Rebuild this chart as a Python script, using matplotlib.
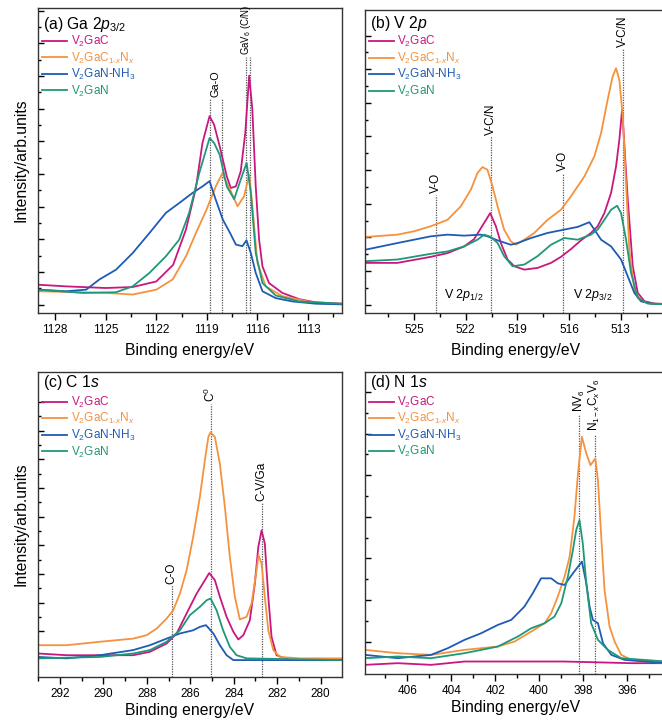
import matplotlib
matplotlib.use("Agg")
import matplotlib.pyplot as plt
from matplotlib.ticker import MultipleLocator, FixedLocator
import numpy as np

plt.rcParams['font.family'] = ['Liberation Sans', 'DejaVu Sans']
plt.rcParams['mathtext.fontset'] = 'custom'
plt.rcParams['mathtext.rm'] = 'Liberation Sans'
plt.rcParams['mathtext.it'] = 'Liberation Sans:italic'
plt.rcParams['mathtext.bf'] = 'Liberation Sans:bold'

names = ["V$_2$GaC", "V$_2$GaC$_{1\u2011x}$N$_x$", "V$_2$GaN-NH$_3$", "V$_2$GaN"]
colors = ["#C8187F", "#F5923E", "#1F5BB4", "#1E9878"]

# ---- (a) Ga 2p3/2 ----
ga_c_e = [1129.0, 1127.35, 1125.0, 1123.4, 1122.0, 1121.0, 1120.24, 1119.65, 1119.26, 1118.84, 1118.57, 1118.24, 1117.82, 1117.58, 1117.28, 1116.99, 1116.72, 1116.49, 1116.3, 1116.1, 1115.9, 1115.7, 1115.31, 1114.52, 1113.53, 1112.55, 1111.0]
ga_c_i = [0.61, 0.56, 0.51, 0.54, 0.71, 1.22, 2.30, 3.57, 4.95, 5.77, 5.51, 4.85, 3.93, 3.57, 3.62, 4.08, 5.26, 7.01, 5.97, 3.62, 1.99, 1.17, 0.66, 0.36, 0.17, 0.07, 0.03]
ga_cn_e = [1129.0, 1125.0, 1123.4, 1122.0, 1121.03, 1120.24, 1119.65, 1119.06, 1118.47, 1118.09, 1117.62, 1117.18, 1116.79, 1116.49, 1116.3, 1116.0, 1115.51, 1114.52, 1112.55, 1111.0]
ga_cn_i = [0.41, 0.36, 0.31, 0.46, 0.77, 1.48, 2.19, 2.86, 3.62, 4.01, 3.52, 3.01, 3.32, 3.98, 3.01, 1.28, 0.56, 0.26, 0.05, 0.02]
ga_nh_e = [1129.0, 1127.35, 1126.16, 1125.38, 1124.39, 1123.4, 1122.41, 1121.43, 1120.64, 1119.85, 1119.26, 1118.84, 1118.47, 1118.05, 1117.62, 1117.28, 1116.89, 1116.65, 1116.39, 1116.1, 1115.7, 1114.91, 1113.93, 1112.55, 1111.0]
ga_nh_i = [0.46, 0.41, 0.46, 0.77, 1.07, 1.58, 2.19, 2.81, 3.11, 3.42, 3.62, 3.78, 3.21, 2.60, 2.19, 1.84, 1.79, 1.97, 1.58, 0.97, 0.41, 0.20, 0.10, 0.03, 0.01]
ga_n_e = [1129.0, 1126.36, 1124.39, 1123.4, 1122.41, 1121.43, 1120.64, 1120.05, 1119.45, 1118.84, 1118.57, 1118.24, 1117.82, 1117.38, 1116.99, 1116.64, 1116.39, 1116.1, 1115.7, 1114.91, 1113.53, 1111.0]
ga_n_i = [0.46, 0.36, 0.38, 0.56, 0.97, 1.48, 1.99, 2.81, 4.03, 5.10, 4.95, 4.59, 3.62, 3.23, 3.83, 4.34, 3.42, 1.58, 0.66, 0.28, 0.10, 0.03]

# ---- (b) V 2p ----
v_c_e = [527.85, 525.97, 524.03, 523.06, 522.09, 521.51, 520.93, 520.58, 520.25, 519.96, 519.57, 519.18, 518.6, 517.83, 517.05, 516.47, 515.89, 515.31, 514.73, 514.34, 513.95, 513.56, 513.27, 513.08, 512.92, 512.83, 512.59, 512.3, 512.01, 511.62, 511.04, 510.37]
v_c_i = [1.24, 1.24, 1.42, 1.53, 1.73, 1.95, 2.43, 2.72, 2.33, 1.83, 1.34, 1.14, 1.04, 1.09, 1.24, 1.42, 1.65, 1.91, 2.13, 2.33, 2.72, 3.32, 4.11, 4.90, 5.79, 5.10, 3.12, 1.14, 0.35, 0.10, 0.03, 0.02]
v_cn_e = [527.85, 525.97, 525.0, 524.03, 523.06, 522.29, 521.7, 521.32, 521.03, 520.74, 520.44, 520.15, 519.77, 519.38, 519.09, 518.6, 518.02, 517.25, 516.47, 515.89, 515.11, 514.53, 514.14, 513.76, 513.47, 513.27, 513.08, 512.88, 512.69, 512.5, 512.21, 511.82, 511.24, 510.37]
v_cn_i = [2.01, 2.08, 2.18, 2.33, 2.52, 2.92, 3.42, 3.91, 4.09, 4.01, 3.51, 2.92, 2.23, 1.88, 1.78, 1.93, 2.13, 2.52, 2.82, 3.22, 3.81, 4.41, 5.10, 6.09, 6.78, 7.03, 6.68, 5.59, 3.61, 1.63, 0.45, 0.10, 0.03, 0.01]
v_nh_e = [527.85, 525.97, 524.03, 523.06, 522.09, 521.13, 520.74, 520.15, 519.38, 518.99, 518.21, 517.25, 516.28, 515.5, 514.82, 514.53, 514.14, 513.56, 512.98, 512.59, 512.21, 511.82, 511.24, 510.37]
v_nh_i = [1.63, 1.83, 2.03, 2.08, 2.05, 2.08, 2.03, 1.91, 1.78, 1.83, 1.98, 2.13, 2.23, 2.31, 2.45, 2.23, 1.93, 1.73, 1.34, 0.84, 0.35, 0.10, 0.03, 0.01]
v_n_e = [527.85, 525.97, 524.03, 523.06, 522.09, 521.32, 520.93, 520.54, 520.15, 519.77, 519.28, 518.6, 517.83, 517.05, 516.28, 515.5, 514.73, 514.34, 513.95, 513.56, 513.21, 512.98, 512.69, 512.4, 512.01, 511.43, 510.37]
v_n_i = [1.29, 1.34, 1.51, 1.58, 1.73, 1.93, 2.08, 2.01, 1.83, 1.44, 1.14, 1.19, 1.44, 1.78, 1.98, 1.93, 2.08, 2.23, 2.52, 2.82, 2.94, 2.72, 1.93, 0.94, 0.20, 0.03, 0.01]

# ---- (c) C 1s ----
c_c_e = [293.0, 291.69, 290.16, 288.63, 287.86, 287.09, 286.63, 286.17, 285.71, 285.33, 285.13, 284.87, 284.64, 284.33, 284.02, 283.79, 283.56, 283.26, 283.03, 282.87, 282.72, 282.57, 282.41, 282.26, 282.03, 281.42, 279.0]
c_c_i = [-0.78, -0.84, -0.84, -0.84, -0.72, -0.43, -0.08, 0.62, 1.31, 1.78, 2.03, 1.78, 1.20, 0.50, -0.02, -0.29, -0.14, 0.38, 1.66, 2.94, 3.52, 3.06, 1.20, -0.20, -0.84, -1.01, -1.01]
c_cn_e = [293.0, 291.69, 290.16, 288.63, 288.01, 287.55, 287.09, 286.79, 286.48, 286.17, 285.87, 285.56, 285.33, 285.17, 285.07, 284.87, 284.64, 284.41, 284.18, 283.95, 283.72, 283.41, 283.18, 282.95, 282.86, 282.72, 282.57, 282.41, 282.18, 281.88, 280.96, 279.0]
c_cn_i = [-0.49, -0.49, -0.37, -0.26, -0.14, 0.09, 0.44, 0.73, 1.31, 2.13, 3.29, 4.69, 5.97, 6.78, 6.95, 6.78, 5.85, 4.34, 2.59, 1.20, 0.41, 0.50, 0.97, 2.13, 2.65, 2.36, 1.20, 0.03, -0.66, -0.90, -0.95, -0.95]
c_nh_e = [293.0, 291.69, 290.16, 288.63, 287.86, 287.09, 286.48, 285.87, 285.56, 285.28, 284.94, 284.64, 284.33, 284.02, 279.0]
c_nh_i = [-0.90, -0.95, -0.84, -0.66, -0.49, -0.26, -0.08, 0.03, 0.15, 0.21, -0.08, -0.49, -0.84, -1.01, -1.01]
c_n_e = [293.0, 290.16, 288.63, 287.86, 287.09, 286.48, 286.02, 285.56, 285.25, 285.07, 284.79, 284.49, 284.18, 283.87, 283.41, 279.0]
c_n_i = [-0.95, -0.90, -0.78, -0.66, -0.37, 0.03, 0.56, 0.85, 1.08, 1.14, 0.73, 0.03, -0.55, -0.84, -0.95, -1.01]

# ---- (d) N 1s ----
n_c_e = [407.93, 406.44, 404.92, 403.4, 401.88, 400.36, 398.84, 397.32, 395.8, 394.22]
n_c_i = [-0.56, -0.52, -0.56, -0.48, -0.48, -0.48, -0.48, -0.50, -0.52, -0.52]
n_cn_e = [407.93, 406.44, 404.92, 403.4, 401.88, 401.12, 400.36, 399.75, 399.45, 399.15, 398.84, 398.61, 398.39, 398.23, 398.05, 397.85, 397.66, 397.44, 397.32, 397.17, 397.02, 396.79, 396.56, 396.26, 395.8, 394.22]
n_cn_i = [-0.20, -0.28, -0.32, -0.20, -0.12, 0.0, 0.24, 0.44, 0.68, 1.08, 1.56, 2.04, 3.0, 4.04, 4.92, 4.52, 4.24, 4.40, 3.88, 2.52, 1.24, 0.36, 0.0, -0.32, -0.44, -0.52]
n_nh_e = [407.93, 406.44, 404.92, 404.16, 403.4, 402.64, 401.88, 401.27, 400.67, 400.29, 399.91, 399.45, 399.15, 398.84, 398.46, 398.05, 397.85, 397.7, 397.55, 397.32, 397.09, 396.71, 396.11, 394.22]
n_nh_i = [-0.32, -0.40, -0.32, -0.16, 0.04, 0.20, 0.40, 0.52, 0.84, 1.16, 1.52, 1.52, 1.40, 1.36, 1.64, 1.92, 1.40, 0.84, 0.52, 0.44, -0.04, -0.32, -0.44, -0.52]
n_n_e = [407.93, 406.44, 404.92, 403.4, 401.88, 400.97, 400.36, 399.75, 399.3, 398.99, 398.69, 398.46, 398.31, 398.16, 398.01, 397.85, 397.63, 397.32, 396.87, 396.26, 394.22]
n_n_i = [-0.40, -0.36, -0.40, -0.28, -0.12, 0.12, 0.32, 0.44, 0.60, 0.92, 1.56, 2.20, 2.68, 2.92, 2.36, 1.40, 0.44, 0.04, -0.20, -0.40, -0.48]

fig = plt.figure(figsize=(6.62, 7.21), dpi=100)
W, H = 662.0, 721.0


def make_ax(l, t, r, b):
    return fig.add_axes([l / W, 1 - b / H, (r - l) / W, (b - t) / H])


def style(ax, xlim, ylim, xmaj, yticks, title, ttop):
    ax.set_xlim(*xlim)
    ax.set_ylim(*ylim)
    ax.xaxis.set_major_locator(MultipleLocator(xmaj))
    ax.xaxis.set_minor_locator(MultipleLocator(xmaj / 2))
    ax.yaxis.set_major_locator(FixedLocator(yticks))
    ax.yaxis.set_minor_locator(FixedLocator([v + 0.5 for v in yticks[:-1]]))
    ax.tick_params(axis='x', which='major', direction='out', length=5, width=1, labelsize=8.5, pad=3)
    ax.tick_params(axis='x', which='minor', direction='out', length=3, width=1)
    ax.tick_params(axis='y', which='major', direction='in', length=4, width=1, labelleft=False)
    ax.tick_params(axis='y', which='minor', direction='in', length=2.5, width=1)
    for s in ax.spines.values():
        s.set_linewidth(1.0)
        s.set_color('#333333')
    ax.set_xlabel("Binding energy/eV", fontsize=11.3)
    ax.text(0.016, 1 - ttop, title, transform=ax.transAxes, fontsize=11.3, ha='left', va='center')


def draw(ax, series):
    for (e, i), c, n in zip(series, colors, names):
        ax.plot(e, i, color=c, lw=1.3, label=n)


def mark(ax, x, top, label, dx=0.0, fs=8.5):
    y0 = ax.get_ylim()[0]
    for xx in np.atleast_1d(x):
        ax.plot([xx, xx], [y0, top], ls=(0, (1, 1)), color='#555555', lw=0.9, zorder=1)
    xc = np.mean(np.atleast_1d(x)) + dx
    ax.text(xc, top + 0.05, label, rotation=90, ha='center', va='bottom', fontsize=fs)


def legend(ax, ytop):
    ax.legend(loc='upper left', bbox_to_anchor=(0.013, ytop), frameon=False, fontsize=8.5,
              handlelength=2.1, handletextpad=0.3, labelspacing=0.12, labelcolor='linecolor',
              borderaxespad=0.0, borderpad=0.0)


# (a)
ax = make_ax(38.3, 8, 341.7, 313)
draw(ax, [(ga_c_e, ga_c_i), (ga_cn_e, ga_cn_i), (ga_nh_e, ga_nh_i), (ga_n_e, ga_n_i)])
style(ax, (1129.0, 1111.0), (-0.255, 9.08), 3, list(range(0, 10)), "(a) Ga 2$\\it{p}$$_{3/2}$", 0.053)
mark(ax, [1118.8, 1118.13], 6.3, "Ga-O", fs=7.8)
mark(ax, [1116.69, 1116.46], 7.58, "GaV$_6$ (C/N)", dx=0.12, fs=6.9)
legend(ax, 0.915)
ax.set_ylabel("Intensity/arb.units", fontsize=11.3)
ax.yaxis.set_label_coords(-0.031, 0.5)
ax.xaxis.set_label_coords(0.5, -0.1)

# (b)
ax = make_ax(365, 10, 666, 313)
draw(ax, [(v_c_e, v_c_i), (v_cn_e, v_cn_i), (v_nh_e, v_nh_i), (v_n_e, v_n_i)])
style(ax, (527.85, 510.37), (-0.25, 8.76), 3, list(range(0, 9)), "(b) V 2$\\it{p}$", 0.043)
mark(ax, [523.72], 3.27, "V-O")
mark(ax, [520.54], 5.0, "V-C/N")
mark(ax, [516.37], 3.91, "V-O")
mark(ax, [512.88], 7.62, "V-C/N")
ax.text(522.1, 0.3, "V 2$\\it{p}$$_{1/2}$", ha='center', va='center', fontsize=9)
ax.text(514.6, 0.3, "V 2$\\it{p}$$_{3/2}$", ha='center', va='center', fontsize=9)
legend(ax, 0.92)
ax.xaxis.set_label_coords(0.5, -0.1)

# (c)
ax = make_ax(38.3, 372, 341.7, 676.7)
draw(ax, [(c_c_e, c_c_i), (c_cn_e, c_cn_i), (c_nh_e, c_nh_i), (c_n_e, c_n_i)])
style(ax, (293.0, 279.03), (-1.59, 9.05), 2, list(range(0, 9)), "(c) C 1$\\it{s}$", 0.036)
mark(ax, [286.86], 1.6, "C-O")
mark(ax, [285.07], 7.94, "C$^0$")
mark(ax, [282.72], 4.51, "C-V/Ga")
legend(ax, 0.925)
ax.set_ylabel("Intensity/arb.units", fontsize=11.3)
ax.yaxis.set_label_coords(-0.031, 0.5)
ax.xaxis.set_label_coords(0.5, -0.085)

# (d)
ax = make_ax(365, 372, 666, 674)
draw(ax, [(n_c_e, n_c_i), (n_cn_e, n_cn_i), (n_nh_e, n_nh_i), (n_n_e, n_n_i)])
style(ax, (407.93, 394.22), (-0.78, 6.48), 2, list(range(0, 7)), "(d) N 1$\\it{s}$", 0.036)
mark(ax, [398.16], 5.48, "NV$_6$")
mark(ax, [397.47], 5.0, "N$_{1-x}$C$_x$V$_6$")
legend(ax, 0.925)
ax.xaxis.set_label_coords(0.5, -0.085)

fig.savefig("out.png", dpi=100)
